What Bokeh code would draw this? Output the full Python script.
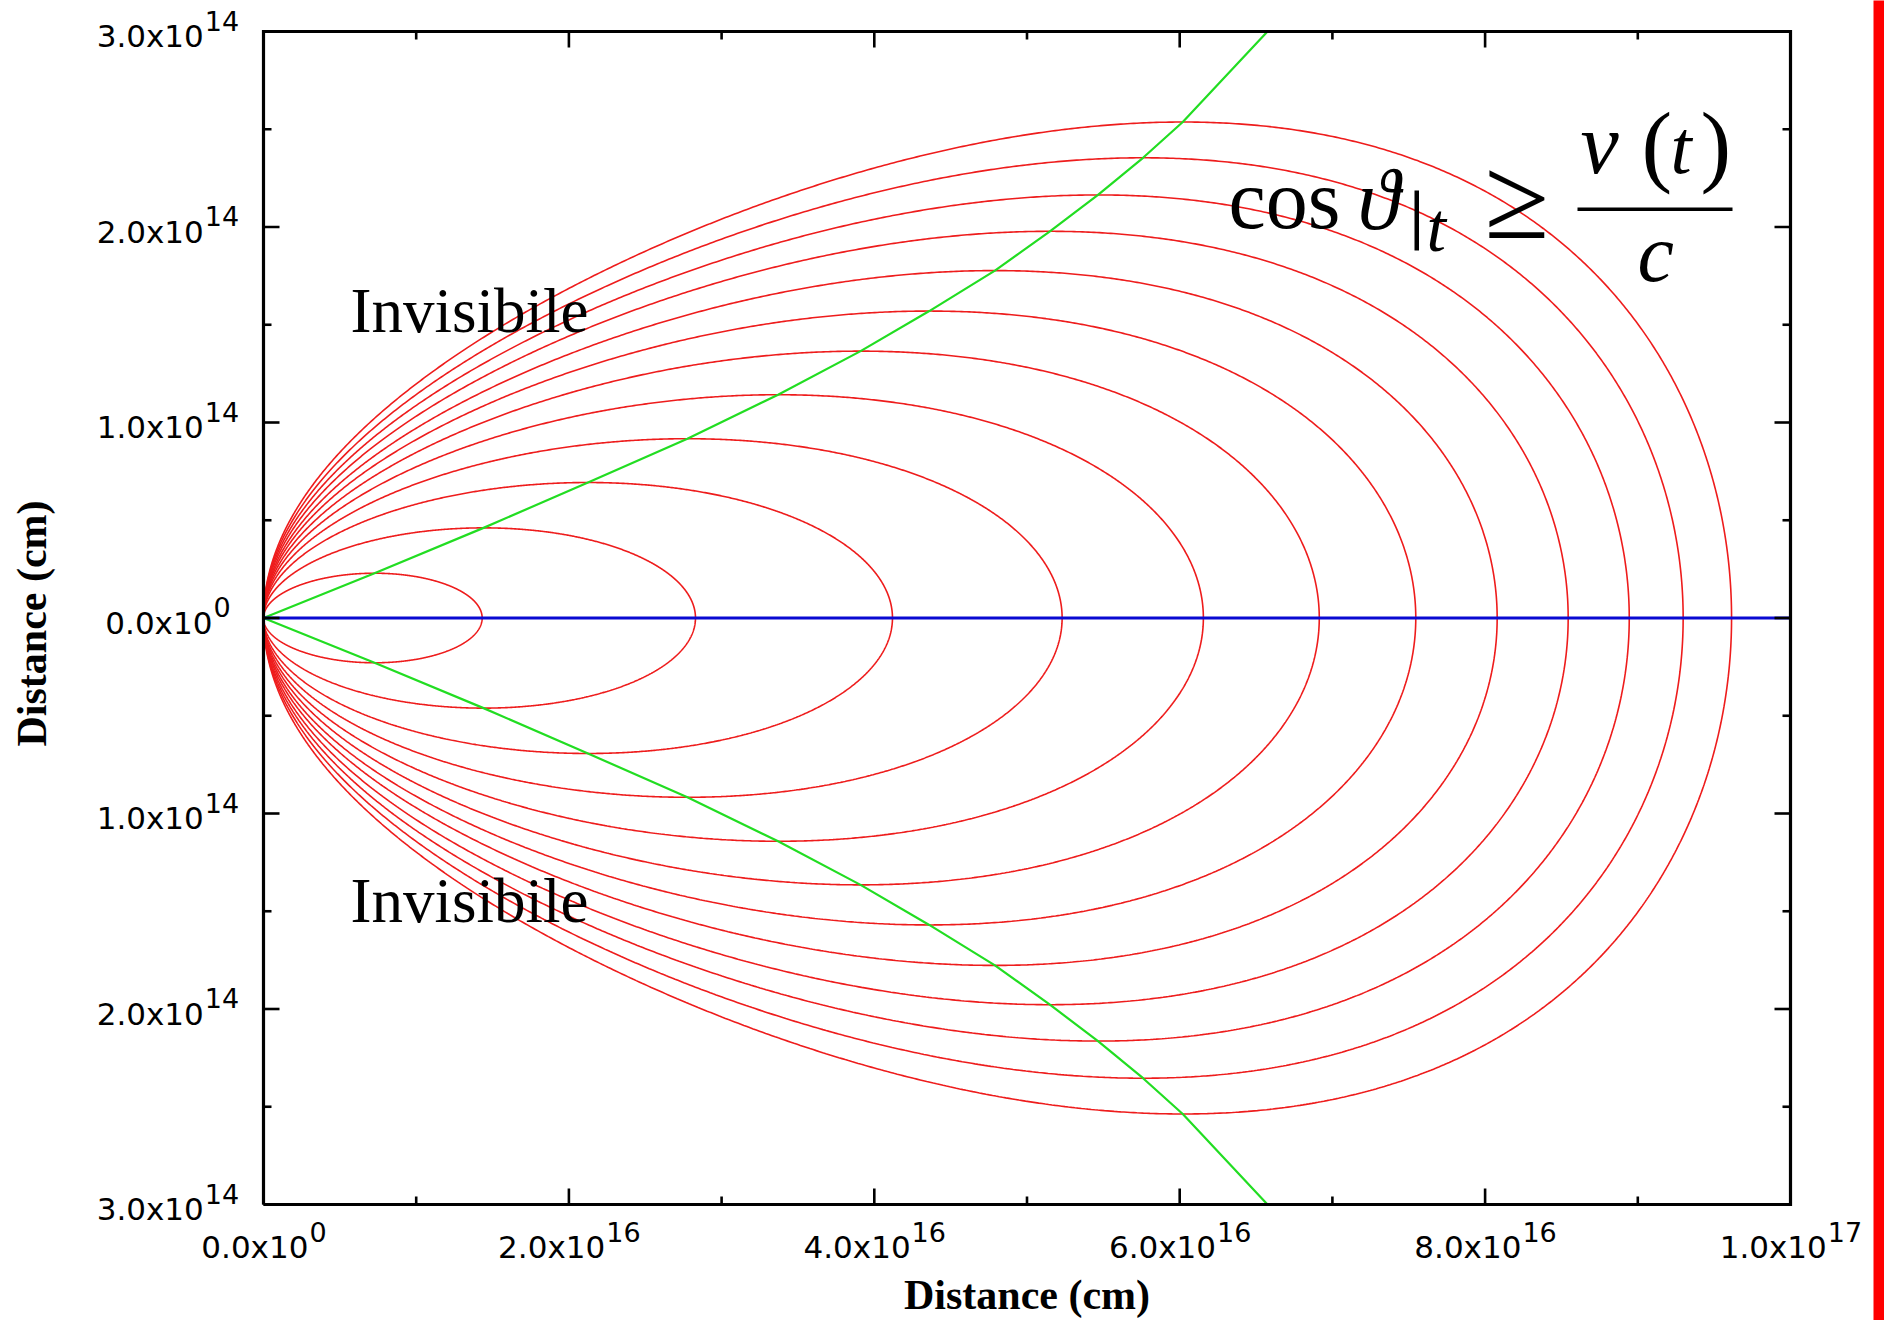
import math
import numpy as np
from bokeh.plotting import figure
from bokeh.models import Range1d, Label, BoxAnnotation
from bokeh.layouts import row
from bokeh.embed import file_html
from bokeh.resources import INLINE

# ---------------- data ----------------
# 12 equal-arrival-time curves: far end on the axis, and top point (on the green line)
curve_xmax = [1.432, 2.829, 4.119, 5.230, 6.155, 6.914, 7.546, 8.079, 8.544, 8.944, 9.297, 9.614]   # x10^16 cm
curve_xpeak = [0.727, 1.441, 2.125, 2.776, 3.370, 3.910, 4.360, 4.790, 5.150, 5.465, 5.760, 6.020]  # x10^16 cm
curve_ypeak = [0.229, 0.461, 0.693, 0.917, 1.142, 1.365, 1.570, 1.777, 1.978, 2.164, 2.354, 2.537]  # x10^14 cm

# visibility boundary cos(theta) = v(t)/c (green), upper branch
green_x = [0.0, 0.727, 1.441, 2.125, 2.776, 3.370, 3.910, 4.360, 4.790, 5.150, 5.465, 5.760, 6.020, 6.575]  # x10^16
green_y = [0.0, 0.229, 0.461, 0.693, 0.917, 1.142, 1.365, 1.570, 1.777, 1.978, 2.164, 2.354, 2.537, 3.000]  # x10^14

# line of sight (blue)
axis_x = [0.0, 10.0]  # x10^16
axis_y = [0.0, 0.0]

x_tick_vals = [0, 2e16, 4e16, 6e16, 8e16, 1e17]
x_minor_vals = [1e16, 3e16, 5e16, 7e16, 9e16]
x_tick_base = ["0.0x10", "2.0x10", "4.0x10", "6.0x10", "8.0x10", "1.0x10"]
x_tick_exp = ["0", "16", "16", "16", "16", "17"]
y_tick_vals = [3e14, 2e14, 1e14, 0, -1e14, -2e14, -3e14]
y_minor_vals = [2.5e14, 1.5e14, 0.5e14, -0.5e14, -1.5e14, -2.5e14]
y_tick_base = ["3.0x10", "2.0x10", "1.0x10", "0.0x10", "1.0x10", "2.0x10", "3.0x10"]
y_tick_exp = ["14", "14", "14", "0", "14", "14", "14"]

XS, YS = 1e16, 1e14

# ---------------- layout constants (pixels) ----------------
W, H = 1873, 1320
FL, FR, FT, FB = 263, 1790, 31, 1204
X0, X1 = 0.0, 1e17
Y0, Y1 = -3e14, 3e14
PX = (X1 - X0) / (FR - FL)   # data per pixel, x
PY = (Y1 - Y0) / (FB - FT)   # data per pixel, y
BL = 0.37                    # baseline correction (fraction of font size)


def dx(px):
    return X0 + (px - FL) * PX


def dy(py):
    return Y1 - (py - FT) * PY


def px_of(x):
    return FL + (x - X0) / PX


def py_of(y):
    return FT + (Y1 - y) / PY


def solve_k(up):
    lo, hi = 1.0001, 60.0
    target = -math.log(up)
    for _ in range(200):
        mid = 0.5 * (lo + hi)
        if math.log(mid) / (mid - 1) > target:
            lo = mid
        else:
            hi = mid
    return 0.5 * (lo + hi)


# the frame covers the whole canvas; the data box is drawn inside it
p = figure(width=W, height=H, output_backend="svg", toolbar_location=None,
           x_range=Range1d(dx(0), dx(W)), y_range=Range1d(dy(H), dy(0)),
           x_axis_location=None, y_axis_location=None,
           min_border_left=0, min_border_right=0, min_border_top=0, min_border_bottom=0)
p.background_fill_color = "white"
p.border_fill_color = "white"
p.outline_line_color = None
p.xgrid.visible = False
p.ygrid.visible = False

# red curves
xs_all, ys_all = [], []
for X, xp, yp in zip(curve_xmax, curve_xpeak, curve_ypeak):
    up = xp / X
    k = solve_k(up)
    phi = np.linspace(0, math.pi, 700)
    u = (1 - np.cos(phi)) / 2
    val = np.clip(u - u ** k, 0, None) / (up - up ** k)
    y = yp * np.sqrt(val)
    x = u * X
    xs_all.append(list(np.concatenate([x, x[::-1]]) * XS))
    ys_all.append(list(np.concatenate([y, -y[::-1]]) * YS))
p.multi_line(xs_all, ys_all, line_color="#ee1c1c", line_width=1.6)

gx = np.array(green_x) * XS
gy = np.array(green_y) * YS
p.line(gx, gy, line_color="#22dd22", line_width=2.2, line_join="round")
p.line(gx, -gy, line_color="#22dd22", line_width=2.2, line_join="round")

p.line(np.array(axis_x) * XS, np.array(axis_y) * YS, line_color="#0a0ad2", line_width=3.2)

# ticks (inward, on all four sides)
MAJ, MIN = 16, 8
tick_style = dict(line_color="black", line_width=2.6, line_cap="butt")
xa = np.array(x_tick_vals, dtype=float)
xm = np.array(x_minor_vals, dtype=float)
ya = np.array(y_tick_vals, dtype=float)
ym = np.array(y_minor_vals, dtype=float)
for vals, ln in ((xa, MAJ), (xm, MIN)):
    p.segment(x0=vals, y0=[Y0] * len(vals), x1=vals, y1=[Y0 + ln * PY] * len(vals), **tick_style)
    p.segment(x0=vals, y0=[Y1] * len(vals), x1=vals, y1=[Y1 - ln * PY] * len(vals), **tick_style)
for vals, ln in ((ya, MAJ), (ym, MIN)):
    p.segment(x0=[X0] * len(vals), y0=vals, x1=[X0 + ln * PX] * len(vals), y1=vals, **tick_style)
    p.segment(x0=[X1] * len(vals), y0=vals, x1=[X1 - ln * PX] * len(vals), y1=vals, **tick_style)

# plot box
p.line([X0, X1, X1, X0, X0], [Y0, Y0, Y1, Y1, Y0], line_color="black", line_width=3.2,
       line_join="miter")


def lab(px, py, txt, size, style="normal", font="Liberation Serif", align="left", angle=0.0):
    s = float(size)
    if angle == 0.0:
        x, y = dx(px), dy(py - BL * s)
    else:
        x, y = dx(px - BL * s), dy(py)
    p.add_layout(Label(x=x, y=y, text=txt, text_font=font, text_font_size="%dpx" % round(s),
                       text_font_style=style, text_align=align, text_baseline="alphabetic",
                       text_color="black", angle=angle))


# tick labels (base + exponent, centred as a whole)
TF = "DejaVu Sans"
for v, b, e in zip(x_tick_vals, x_tick_base, x_tick_exp):
    cx = px_of(v)
    split = cx + (107 - 17.2 * len(e)) / 2
    lab(split, 1258, b, 31, font=TF, align="right")
    lab(split + 1, 1241, e, 27, font=TF, align="left")
for v, b, e in zip(y_tick_vals, y_tick_base, y_tick_exp):
    ty = py_of(v)
    split = 167 + (107 - 17.2 * len(e)) / 2
    lab(split, ty + 16, b, 31, font=TF, align="right")
    lab(split + 1, ty - 1, e, 27, font=TF, align="left")

# axis titles
lab((FL + FR) / 2, 1310, "Distance (cm)", 42, style="bold", align="center")
lab(47, 623, "Distance (cm)", 42, style="bold", align="center", angle=math.pi / 2)

# region labels
lab(350, 334, "Invisibile", 63)
lab(350, 924, "Invisibile", 63)

# formula  cos θ|_t >= v(t)/c
lab(1228, 230, "cos", 84)
lab(1357, 231, "\u03d1", 86, "italic")
p.add_layout(BoxAnnotation(left=dx(1414), right=dx(1418.5), top=dy(190), bottom=dy(250),
                           fill_color="black", fill_alpha=1.0, line_color=None))
lab(1426, 253, "t", 70, "italic")
lab(1484, 242, "\u2265", 118)
p.add_layout(BoxAnnotation(left=dx(1577), right=dx(1732), top=dy(207), bottom=dy(210.5),
                           fill_color="black", fill_alpha=1.0, line_color=None))
lab(1580, 175, "v", 86, "italic")
lab(1641, 178, "(", 92)
lab(1670, 175, "t", 76, "italic")
lab(1700, 178, ")", 92)
lab(1637, 283, "c", 82, "italic")

# red strip at the right edge
strip = figure(width=11, height=H, output_backend="svg", toolbar_location=None,
               x_axis_location=None, y_axis_location=None,
               min_border_left=0, min_border_right=0, min_border_top=0, min_border_bottom=0)
strip.background_fill_color = "#ff0000"
strip.border_fill_color = "#ff0000"
strip.outline_line_color = None
strip.xgrid.visible = False
strip.ygrid.visible = False

layout = row(p, strip, spacing=0)
open("out.html", "w").write(file_html(layout, INLINE))
